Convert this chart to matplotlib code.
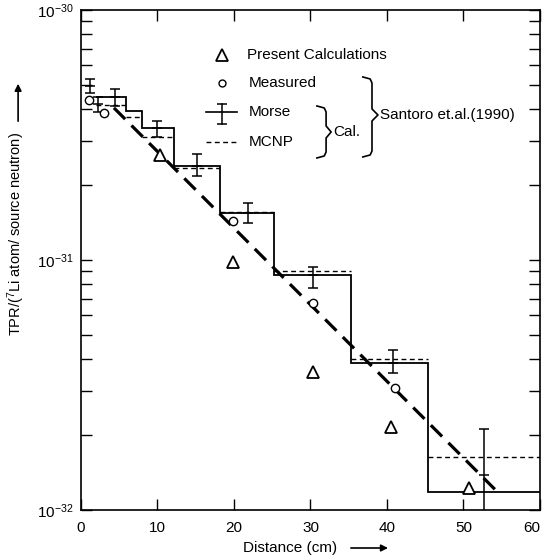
import matplotlib
matplotlib.use("Agg")
import matplotlib.pyplot as plt
from matplotlib.ticker import NullFormatter

plt.rcParams['font.family'] = ['Liberation Sans', 'DejaVu Sans']
plt.rcParams['mathtext.default'] = 'regular'
plt.rcParams['axes.unicode_minus'] = False
plt.rcParams['font.size'] = 11

### values

# Morse (solid steps) and MCNP (dashed steps), bin edges in cm
bin_edges = [2.0, 5.9, 8.0, 12.2, 18.2, 25.2, 35.3, 45.4, 60.0]
morse_steps = [4.49e-31, 3.94e-31, 3.37e-31, 2.38e-31, 1.54e-31, 8.71e-32, 3.87e-32, 1.18e-32]
mcnp_steps = [4.17e-31, 3.73e-31, 3.10e-31, 2.33e-31, 1.56e-31, 9.04e-32, 4.02e-32, 1.63e-32]

# Morse error bars
err_x = [1.2, 2.2, 4.4, 9.9, 15.2, 21.8, 30.3, 40.8, 52.7]
err_mid = [4.97e-31, 4.21e-31, 4.49e-31, 3.37e-31, 2.38e-31, 1.54e-31, 8.71e-32, 3.87e-32, 1.38e-32]
err_low = [4.66e-31, 3.91e-31, 4.13e-31, 3.10e-31, 2.17e-31, 1.41e-31, 7.73e-32, 3.53e-32, 9.5e-33]
err_high = [5.30e-31, 4.49e-31, 4.83e-31, 3.60e-31, 2.65e-31, 1.69e-31, 9.38e-32, 4.37e-32, 2.11e-32]

# measured (circles)
meas_x = [1.0, 3.0, 19.9, 30.3, 41.0]
meas_y = [4.37e-31, 3.87e-31, 1.43e-31, 6.73e-32, 3.08e-32]

# present calculations (triangles)
calc_x = [10.3, 19.9, 30.3, 40.5, 50.7]
calc_y = [2.63e-31, 9.82e-32, 3.56e-32, 2.15e-32, 1.22e-32]

# thick dashed trend line
fit_x = [4.3, 54.1]
fit_y = [4.06e-31, 1.21e-32]

x_ticks = [0, 10, 20, 30, 40, 50, 60]


def brace(ax, x0, x1, x2, top, mid, bottom):
	# right pointing curly bracket drawn as a polyline (axes fraction)
	d = 0.012
	xs = [x0, x1 - 0.004, x1, x1, x2, x1, x1, x1 - 0.004, x0]
	ys = [top, top - 0.004, top - d, mid + d, mid, mid - d, bottom + d, bottom + 0.004, bottom]
	ax.plot(xs, ys, color='black', lw=1.2, transform=ax.transAxes, clip_on=False)


fig = plt.figure(figsize=(5.45, 5.6), dpi=100)
ax = fig.add_axes([0.1486, 0.0893, 0.8422, 0.8929])

ax.stairs(morse_steps, bin_edges, baseline=None, color='black', lw=1.3)
ax.hlines(mcnp_steps, bin_edges[:-1], bin_edges[1:], colors='black', lw=1.0,
	linestyles=(0, (3.5, 2.5)))

lo = [m - l for m, l in zip(err_mid, err_low)]
hi = [h - m for m, h in zip(err_mid, err_high)]
ax.errorbar(err_x, err_mid, yerr=[lo, hi], fmt='_', ms=7, mew=1.1, color='black',
	ecolor='black', elinewidth=1.1, capsize=3.6, capthick=1.1)

ax.plot(fit_x, fit_y, color='black', lw=2.3, dashes=(5, 2.8))
ax.plot(meas_x, meas_y, 'o', ms=6, mfc='white', mec='black', mew=1.0, ls='none')
ax.plot(calc_x, calc_y, '^', ms=9, mfc='white', mec='black', mew=1.3, ls='none')

ax.set_yscale('log')
ax.set_ylim(1e-32, 1e-30)
ax.yaxis.set_minor_formatter(NullFormatter())
ax.set_xlim(0, 60)
ax.set_xticks(x_ticks)
ax.tick_params(which='both', direction='in', top=True, right=True, length=8, width=1)
ax.tick_params(axis='x', pad=8)
ax.tick_params(axis='y', pad=5)
ax.get_xticklabels()[-1].set_horizontalalignment('right')
for s in ax.spines.values():
	s.set_linewidth(1.2)

# axis titles with arrows
ax.set_ylabel(r'TPR/($^{7}$Li atom/ source neutron)', fontsize=10.5)
ax.yaxis.set_label_coords(-0.118, 0.552)
ax.annotate('', xy=(-0.137, 0.858), xytext=(-0.137, 0.772), xycoords='axes fraction',
	arrowprops=dict(arrowstyle='-|>', color='black', lw=1.2, mutation_scale=10))
ax.text(0.455, -0.076, 'Distance (cm)', transform=ax.transAxes, ha='center', va='center')
ax.annotate('', xy=(0.675, -0.076), xytext=(0.582, -0.076), xycoords='axes fraction',
	arrowprops=dict(arrowstyle='-|>', color='black', lw=1.2, mutation_scale=10))

# hand made legend
tr = ax.transAxes
ax.plot([0.307], [0.91], '^', ms=9, mfc='white', mec='black', mew=1.3, transform=tr, clip_on=False)
ax.text(0.362, 0.91, 'Present Calculations', transform=tr, va='center')
ax.plot([0.307], [0.854], 'o', ms=5, mfc='white', mec='black', mew=1.0, transform=tr, clip_on=False)
ax.text(0.366, 0.854, 'Measured', transform=tr, va='center')
ax.plot([0.272, 0.340], [0.796, 0.796], color='black', lw=1.2, transform=tr)
ax.plot([0.307, 0.307], [0.772, 0.812], color='black', lw=1.1, transform=tr)
ax.plot([0.307, 0.307], [0.772, 0.812], '_', ms=7, mew=1.1, color='black', transform=tr)
ax.text(0.366, 0.796, 'Morse', transform=tr, va='center')
ax.plot([0.272, 0.340], [0.736, 0.736], color='black', lw=1.0, dashes=(3.5, 2.5), transform=tr)
ax.text(0.366, 0.736, 'MCNP', transform=tr, va='center')

brace(ax, 0.514, 0.534, 0.545, 0.808, 0.756, 0.704)
ax.text(0.549, 0.756, 'Cal.', transform=tr, va='center')
brace(ax, 0.614, 0.634, 0.647, 0.866, 0.79, 0.706)
ax.text(0.652, 0.79, 'Santoro et.al.(1990)', transform=tr, va='center')

fig.savefig('out.png', dpi=100)
